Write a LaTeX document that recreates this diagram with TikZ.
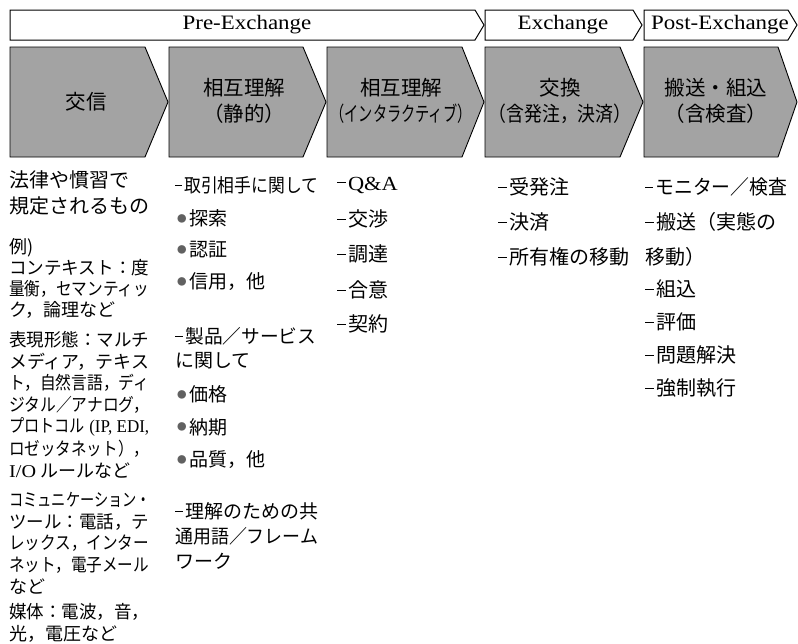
\documentclass[tikz,border=0pt]{standalone}
\usepackage{fontspec}
\usepackage{graphicx}
\setmainfont{Noto Sans CJK JP}
\newfontfamily\lat[FakeStretch=1.12]{Liberation Serif}
\newsavebox\fitbox
\newcommand\fitto[2]{\sbox\fitbox{#2}\ifdim\wd\fitbox>#1\relax\resizebox{#1}{\ht\fitbox}{\usebox\fitbox}\else\usebox\fitbox\fi}
\newcommand\dsh{\rule[0.34em]{0.42em}{0.055em}\hspace{0.12em}}
\newcommand\bul{\hspace{1pt}\raisebox{3.2pt}{\fontsize{9.5}{9.5}\selectfont\color{black!62}●}\hspace{2.5pt}}
\tikzset{
  banner/.style={draw=black, line width=1pt, fill=white, line join=miter},
  stagebox/.style={draw=black, line width=0.9pt, fill=black!36, line join=miter},
  bantext/.style={inner sep=0pt, font=\lat\fontsize{20.5}{24}\selectfont},
  lbl/.style={inner sep=0pt, font=\fontsize{20.5}{25}\selectfont},
  big/.style={anchor=west, inner sep=0pt, font=\fontsize{20}{24}\selectfont},
  small/.style={anchor=west, inner sep=0pt, font=\fontsize{18}{22}\selectfont},
  mid/.style={anchor=west, inner sep=0pt, font=\fontsize{19}{23}\selectfont},
  item/.style={anchor=west, inner sep=0pt, font=\fontsize{20}{24}\selectfont},
}
\begin{document}
\begin{tikzpicture}[x=1pt, y=-1pt]
\useasboundingbox (0,0) rectangle (798,643);
\fill[white] (0,0) rectangle (798,643);

% banners
\draw[banner] (10,10) -- (475,10) -- (484,25) -- (475,40) -- (10,40) -- cycle;
\draw[banner] (485,10) -- (633,10) -- (642,25) -- (633,40) -- (485,40) -- cycle;
\draw[banner] (644,10) -- (788,10) -- (797,25) -- (788,40) -- (644,40) -- cycle;
\node[bantext] (bpre) at (247,25) {Pre-Exchange};
\node[bantext] (bex) at (563,25) {Exchange};
\node[bantext] (bpost) at (720,25) {Post-Exchange};

% stage boxes
\draw[stagebox] (10,47) -- (145,47) -- (168,102) -- (145,157) -- (10,157) -- cycle;
\draw[stagebox] (169,47) -- (303,47) -- (326,102) -- (303,157) -- (169,157) -- cycle;
\draw[stagebox] (327,47) -- (462,47) -- (484,102) -- (462,157) -- (327,157) -- cycle;
\draw[stagebox] (485,47) -- (620,47) -- (643,102) -- (620,157) -- (485,157) -- cycle;
\draw[stagebox] (644,47) -- (778,47) -- (797,102) -- (778,157) -- (644,157) -- cycle;

\node[lbl] (s1) at (86,102) {交信};
\node[lbl] (s2a) at (244,88) {相互理解};
\node[lbl] (s2b) at (244,114) {（静的）};
\node[lbl] (s3a) at (401,88) {相互理解};
\node[lbl] (s3b) at (401,114) {\fitto{141pt}{（インタラクティブ）}};
\node[lbl] (s4a) at (560,88) {交換};
\node[lbl] (s4b) at (560,114) {\fitto{143pt}{（含発注，決済）}};
\node[lbl] (s5a) at (716,88) {搬送・組込};
\node[lbl] (s5b) at (716,114) {（含検査）};

% column 1
\node[big] (a1) at (9,180) {\fitto{142pt}{法律や慣習で}};
\node[big] (a2) at (9,206) {\fitto{142pt}{規定されるもの}};
\node[small] (a3) at (9,248) {例)};
\node[small] (a4) at (9,268) {\fitto{140pt}{コンテキスト：度}};
\node[small] (a5) at (9,289) {\fitto{140pt}{量衡，セマンティッ}};
\node[small] (a6) at (9,310) {ク，論理など};
\node[small] (a7) at (9,340) {\fitto{140pt}{表現形態：マルチ}};
\node[small] (a8) at (9,362) {\fitto{140pt}{メディア，テキス}};
\node[small] (a9) at (9,383) {\fitto{140pt}{ト，自然言語，ディ}};
\node[small] (a10) at (9,405) {\fitto{140pt}{ジタル／アナログ，}};
\node[small] (a11) at (9,427) {\fitto{140pt}{プロトコル{\lat\ (IP, EDI,}}};
\node[small] (a12) at (9,449) {\fitto{140pt}{ロゼッタネット），}};
\node[small] (a13) at (9,471) {{\lat I/O} ルールなど};
\node[small] (a14) at (9,500) {\fitto{142pt}{コミュニケーション・}};
\node[small] (a15) at (9,522) {\fitto{140pt}{ツール：電話，テ}};
\node[small] (a16) at (9,543) {\fitto{140pt}{レックス，インター}};
\node[small] (a17) at (9,565) {\fitto{140pt}{ネット，電子メール}};
\node[small] (a18) at (9,587) {など};
\node[small] (a19) at (9,612) {\fitto{140pt}{媒体：電波，音，}};
\node[small] (a20) at (9,634) {光，電圧など};

% column 2
\node[mid] (b1) at (175,185) {\fitto{143pt}{\dsh 取引相手に関して}};
\node[mid] (b2) at (176,218) {\bul 探索};
\node[mid] (b3) at (176,250) {\bul 認証};
\node[mid] (b4) at (176,282) {\bul 信用，他};
\node[mid] (b5) at (175,336) {\fitto{141pt}{\dsh 製品／サービス}};
\node[mid] (b6) at (175,361) {に関して};
\node[mid] (b7) at (176,394) {\bul 価格};
\node[mid] (b8) at (176,427) {\bul 納期};
\node[mid] (b9) at (176,460) {\bul 品質，他};
\node[mid] (b10) at (175,511) {\fitto{143pt}{\dsh 理解のための共}};
\node[mid] (b11) at (175,536) {\fitto{143pt}{通用語／フレーム}};
\node[mid] (b12) at (175,561) {ワーク};

% column 3
\node[item] (c1) at (337,185) {\dsh{\lat Q\&A}};
\node[item] (c2) at (337,219) {\dsh 交渉};
\node[item] (c3) at (337,254) {\dsh 調達};
\node[item] (c4) at (337,290) {\dsh 合意};
\node[item] (c5) at (337,324) {\dsh 契約};

% column 4
\node[item] (d1) at (498,187) {\dsh 受発注};
\node[item] (d2) at (498,222) {\dsh 決済};
\node[item] (d3) at (498,257) {\fitto{132pt}{\dsh 所有権の移動}};

% column 5
\node[item] (e1) at (645,187) {\fitto{142pt}{\dsh モニター／検査}};
\node[item] (e2) at (645,222) {\fitto{142pt}{\dsh 搬送（実態の}};
\node[item] (e3) at (645,257) {移動）};
\node[item] (e4) at (645,289) {\dsh 組込};
\node[item] (e5) at (645,322) {\dsh 評価};
\node[item] (e6) at (645,355) {\dsh 問題解決};
\node[item] (e7) at (645,388) {\dsh 強制執行};
\end{tikzpicture}
\end{document}
